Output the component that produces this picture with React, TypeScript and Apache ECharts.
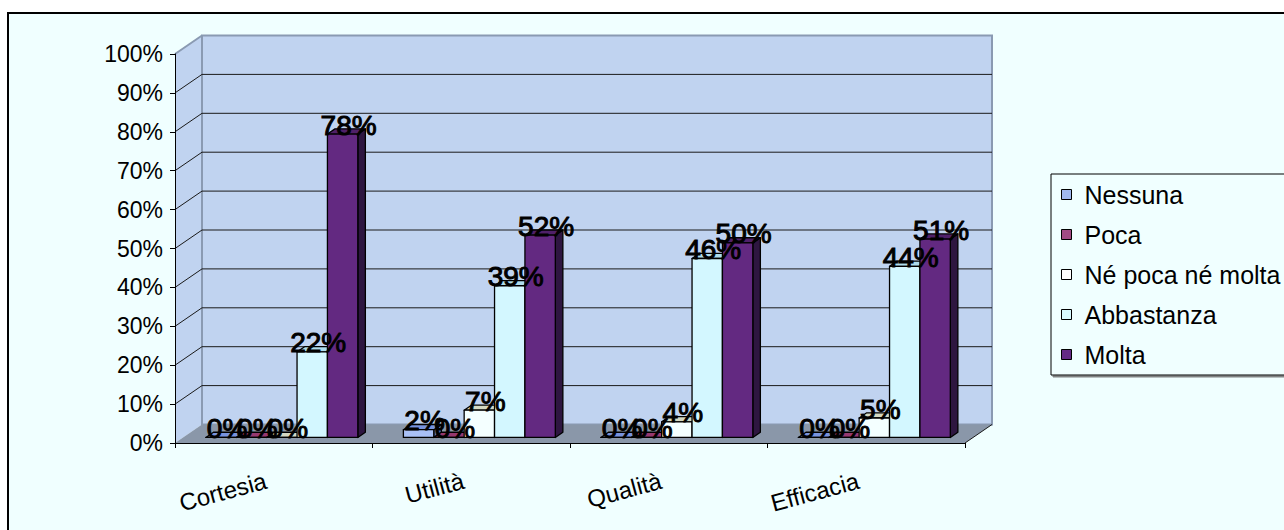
import React, { useEffect, useRef } from "react";
import * as echarts from "echarts";

const categories = ["Cortesia", "Utilità", "Qualità", "Efficacia"];
const seriesNames = ["Nessuna", "Poca", "Né poca né molta", "Abbastanza", "Molta"];
const nessuna = [0, 2, 0, 0];
const poca = [0, 0, 0, 0];
const nePocaNeMolta = [0, 7, 4, 5];
const abbastanza = [22, 39, 46, 44];
const molta = [78, 52, 50, 51];
const yTicks = [0, 10, 20, 30, 40, 50, 60, 70, 80, 90, 100];

const seriesValues = [nessuna, poca, nePocaNeMolta, abbastanza, molta];

const FONT = "'Liberation Sans', Arial, Helvetica, sans-serif";
const palette = [
  { front: "#A9C0F5", top: "#7893DE", side: "#5B72B4", legend: "#A0B8F0" },
  { front: "#A04680", top: "#96386F", side: "#5E2046", legend: "#A24A84" },
  { front: "#F4FFFF", top: "#D4D8C2", side: "#B4B8A4", legend: "#FFFFFF" },
  { front: "#D3F7FF", top: "#AEDCEC", side: "#90BCCC", legend: "#D8FAFF" },
  { front: "#632981", top: "#4F2069", side: "#2E1640", legend: "#652A85" },
];

const WALL_DX = 27;
const WALL_DY = 18.5;
const BAR_FRONT = 0.3;
const BAR_DEPTH = 0.28;

export default function App() {
  const ref = useRef<HTMLDivElement>(null);
  useEffect(() => {
    if (!ref.current) return;
    const chart = echarts.init(ref.current, null, { renderer: "svg" });

    const wallSeries: any = {
      type: "custom",
      name: "walls",
      z: 1,
      silent: true,
      data: [[0, 0]],
      renderItem: (params: any, api: any) => {
        const cs = params.coordSys;
        const x = cs.x, y = cs.y, w = cs.width, h = cs.height;
        const children: any[] = [];
        children.push({
          type: "polygon",
          shape: { points: [[x, y], [x + WALL_DX, y - WALL_DY], [x + WALL_DX, y + h - WALL_DY], [x, y + h]] },
          style: { fill: "#C0D3F0", stroke: null },
        });
        children.push({
          type: "rect",
          shape: { x: x + WALL_DX, y: y - WALL_DY, width: w, height: h },
          style: { fill: "#C0D3F0", stroke: "#8A9AB2", lineWidth: 2 },
        });
        children.push({
          type: "polygon",
          shape: { points: [[x, y + h], [x + WALL_DX, y + h - WALL_DY], [x + w + WALL_DX, y + h - WALL_DY], [x + w, y + h]] },
          style: { fill: "#8A97A9", stroke: null },
        });
        yTicks.forEach((t) => {
          const p = api.coord([0, t]);
          const py = p[1];
          if (t > 0 && t < 100) {
            children.push({
              type: "line",
              shape: { x1: x + WALL_DX, y1: py - WALL_DY, x2: x + w + WALL_DX, y2: py - WALL_DY },
              style: { stroke: "#1a1a1a", lineWidth: 1 },
            });
          }
          if (t > 0) {
            children.push({
              type: "line",
              shape: { x1: x, y1: py, x2: x + WALL_DX, y2: py - WALL_DY },
              style: { stroke: t === 100 ? "#8A9AB2" : "#1a1a1a", lineWidth: t === 100 ? 2 : 1 },
            });
          }
        });
        children.push({
          type: "line",
          shape: { x1: x + w, y1: y + h, x2: x + w + WALL_DX, y2: y + h - WALL_DY },
          style: { stroke: "#1a1a1a", lineWidth: 1 },
        });
        return { type: "group", children };
      },
    };

    const barSeries = seriesNames.map((name, i) => ({
      type: "custom",
      name,
      z: 2,
      itemStyle: { color: palette[i].legend },
      data: seriesValues[i].map((v, c) => [c, v]),
      encode: { x: 0, y: 1 },
      renderItem: (params: any, api: any) => {
        const c = api.value(0);
        const v = api.value(1);
        const p0 = api.coord([c, 0]);
        const p1 = api.coord([c, v]);
        const catW = api.size([1, 0])[0];
        const barW = catW / 6.5;
        const fdx = WALL_DX * BAR_FRONT;
        const fdy = WALL_DY * BAR_FRONT;
        const ddx = WALL_DX * BAR_DEPTH;
        const ddy = WALL_DY * BAR_DEPTH;
        const xl = p0[0] - 2.5 * barW + i * barW + fdx;
        const yb = p0[1] - fdy;
        const yt = p1[1] - fdy;
        const col = palette[i];
        const stroke = { stroke: "#000", lineWidth: 1.3, lineJoin: "round" };
        return {
          type: "group",
          children: [
            {
              type: "polygon",
              shape: { points: [[xl + barW, yt], [xl + barW + ddx, yt - ddy], [xl + barW + ddx, yb - ddy], [xl + barW, yb]] },
              style: { fill: col.side, ...stroke },
            },
            {
              type: "polygon",
              shape: { points: [[xl, yt], [xl + ddx, yt - ddy], [xl + barW + ddx, yt - ddy], [xl + barW, yt]] },
              style: { fill: col.top, ...stroke },
            },
            {
              type: "rect",
              shape: { x: xl, y: yt, width: barW, height: yb - yt },
              style: { fill: col.front, ...stroke },
            },
            {
              type: "text",
              z2: 100,
              style: {
                x: xl + barW / 2 + 6,
                y: yt - 9,
                text: v + "%",
                fill: "#000",
                stroke: "#000",
                lineWidth: 1,
                font: `28px ${FONT}`,
                align: "center",
                verticalAlign: "middle",
              },
            },
          ],
        };
      },
    }));

    chart.setOption({
      animation: false,
      backgroundColor: "#ffffff",
      graphic: {
        elements: [
          {
            type: "rect",
            z: -10,
            shape: { x: 8, y: 13, width: 1300, height: 540 },
            style: { fill: "#F0FFFF", stroke: "#000", lineWidth: 2 },
          },
        ],
      },
      grid: { left: 175, top: 54, width: 790, height: 389 },
      legend: {
        orient: "vertical",
        left: 1051,
        top: 174,
        padding: [8, 40, 8, 10],
        itemGap: 15,
        itemWidth: 10,
        itemHeight: 10,
        borderColor: "#000",
        borderWidth: 1,
        backgroundColor: "#F0FFFF",
        shadowColor: "rgba(100,100,100,0.8)",
        shadowOffsetX: 2,
        shadowOffsetY: 2,
        selectedMode: false,
        textStyle: { fontFamily: FONT, fontSize: 25, color: "#000", lineHeight: 24, padding: [0, 0, 0, 8] },
        data: seriesNames.map((n, i) => ({
          name: n,
          icon: "rect",
          itemStyle: { color: palette[i].legend, borderColor: "#000", borderWidth: 1 },
        })),
      },
      xAxis: {
        type: "category",
        data: categories,
        z: 10,
        axisLine: { lineStyle: { color: "#000", width: 1 } },
        axisTick: { show: true, length: 5, lineStyle: { color: "#000" } },
        axisLabel: {
          rotate: 15,
          margin: 35,
          padding: [0, 8, 0, 0],
          fontFamily: FONT,
          fontSize: 24,
          color: "#000",
        },
        splitLine: { show: false },
      },
      yAxis: {
        type: "value",
        min: 0,
        max: 100,
        interval: 10,
        z: 10,
        axisLine: { show: true, lineStyle: { color: "#000", width: 1 } },
        axisTick: { show: true, length: 5, lineStyle: { color: "#000" } },
        axisLabel: { formatter: "{value}%", margin: 12, fontFamily: FONT, fontSize: 23, color: "#000" },
        splitLine: { show: false },
      },
      series: [wallSeries, ...barSeries],
    });
    return () => chart.dispose();
  }, []);
  return (
    <div
      ref={ref}
      style={{ position: "fixed", left: 0, top: 0, width: 1284, height: 530 }}
    />
  );
}
